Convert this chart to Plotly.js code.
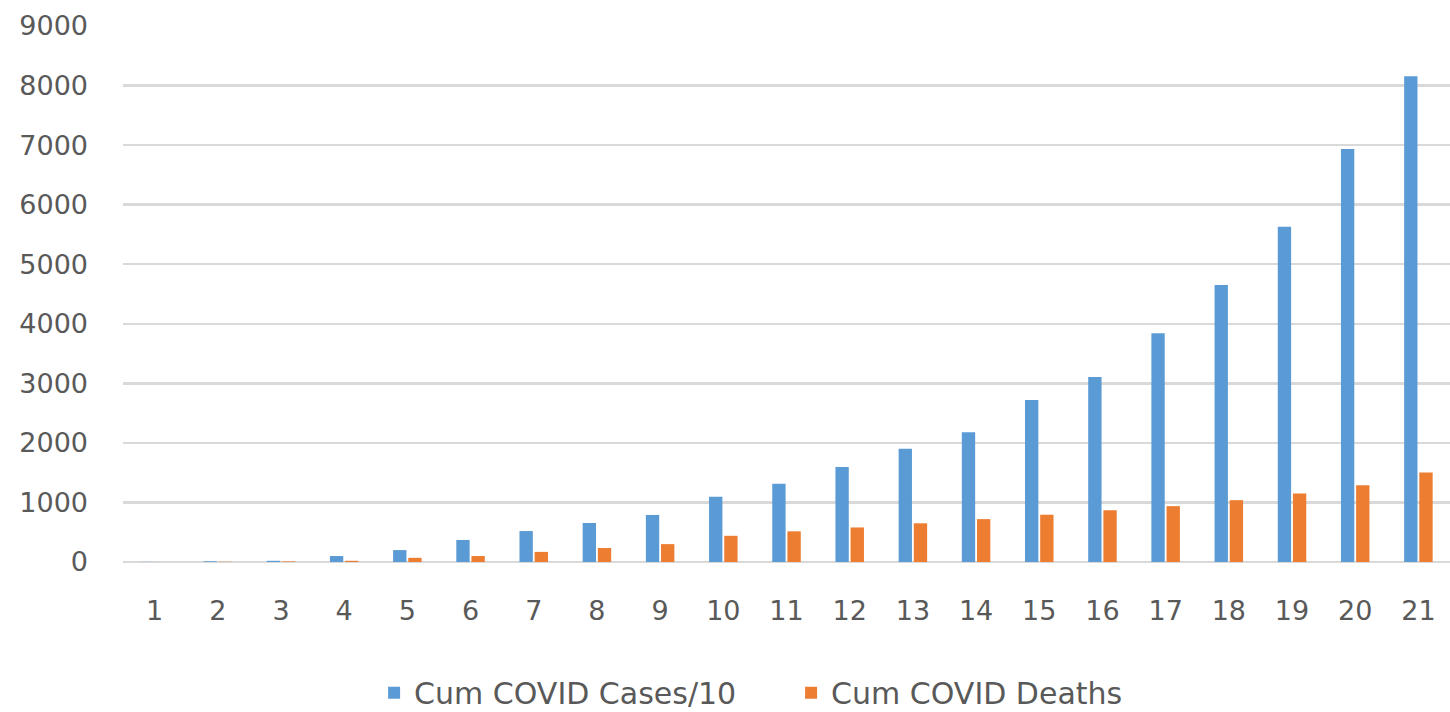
<!DOCTYPE html>
<html>
<head>
<meta charset="utf-8">
<script src="https://cdn.plot.ly/plotly-3.0.1.min.js"></script>
<style>html,body{margin:0;padding:0;background:#fff;}#chart{width:1450px;height:712px;}</style>
</head>
<body>
<div id="chart"></div>
<script>
const categories = ["1","2","3","4","5","6","7","8","9","10","11","12","13","14","15","16","17","18","19","20","21"];
const casesDiv10 = [2, 12, 20, 100, 200, 370, 520, 655, 790, 1095, 1315, 1595, 1900, 2180, 2720, 3108, 3840, 4653, 5629, 6936, 8156];
const deaths = [0, 4, 10, 20, 70, 100, 170, 235, 300, 440, 515, 580, 650, 720, 794, 869, 938, 1038, 1151, 1288, 1501];
const yTicks = [0, 1000, 2000, 3000, 4000, 5000, 6000, 7000, 8000, 9000];

const font = {family: "DejaVu Sans, sans-serif", size: 27, color: "#595959"};
const legendFont = {family: "DejaVu Sans, sans-serif", size: 30, color: "#595959"};

Plotly.newPlot("chart", [
  {type: "bar", name: "Cum COVID Cases/10", x: categories, y: casesDiv10, marker: {color: "#5B9BD5"}},
  {type: "bar", name: "Cum COVID Deaths", x: categories, y: deaths, marker: {color: "#ED7D31"}}
], {
  width: 1450, height: 712,
  margin: {l: 123, r: 0, t: 26, b: 150},
  paper_bgcolor: "#fff", plot_bgcolor: "#fff",
  font: font,
  barmode: "group", bargap: 0.52, bargroupgap: 0.12,
  xaxis: {type: "category", showgrid: false, zeroline: false, showline: false, ticks: "", ticklen: 0, tickfont: font, ticklabelstandoff: 30, automargin: false},
  yaxis: {range: [0, 9000], tickvals: yTicks, ticktext: yTicks.map(String), showgrid: true, gridcolor: "#D9D9D9", gridwidth: 2.5, zeroline: true, zerolinecolor: "#D9D9D9", zerolinewidth: 2.5, showline: false, ticks: "", tickfont: font, ticklabelstandoff: 34, automargin: false},
  legend: {orientation: "h", xref: "container", yref: "container", x: 0.258, xanchor: "left", y: 0.027, yanchor: "middle", font: legendFont, itemwidth: 30, entrywidth: 372, tracegroupgap: 0},
  showlegend: true
}, {displayModeBar: false, staticPlot: true});
</script>
</body>
</html>
